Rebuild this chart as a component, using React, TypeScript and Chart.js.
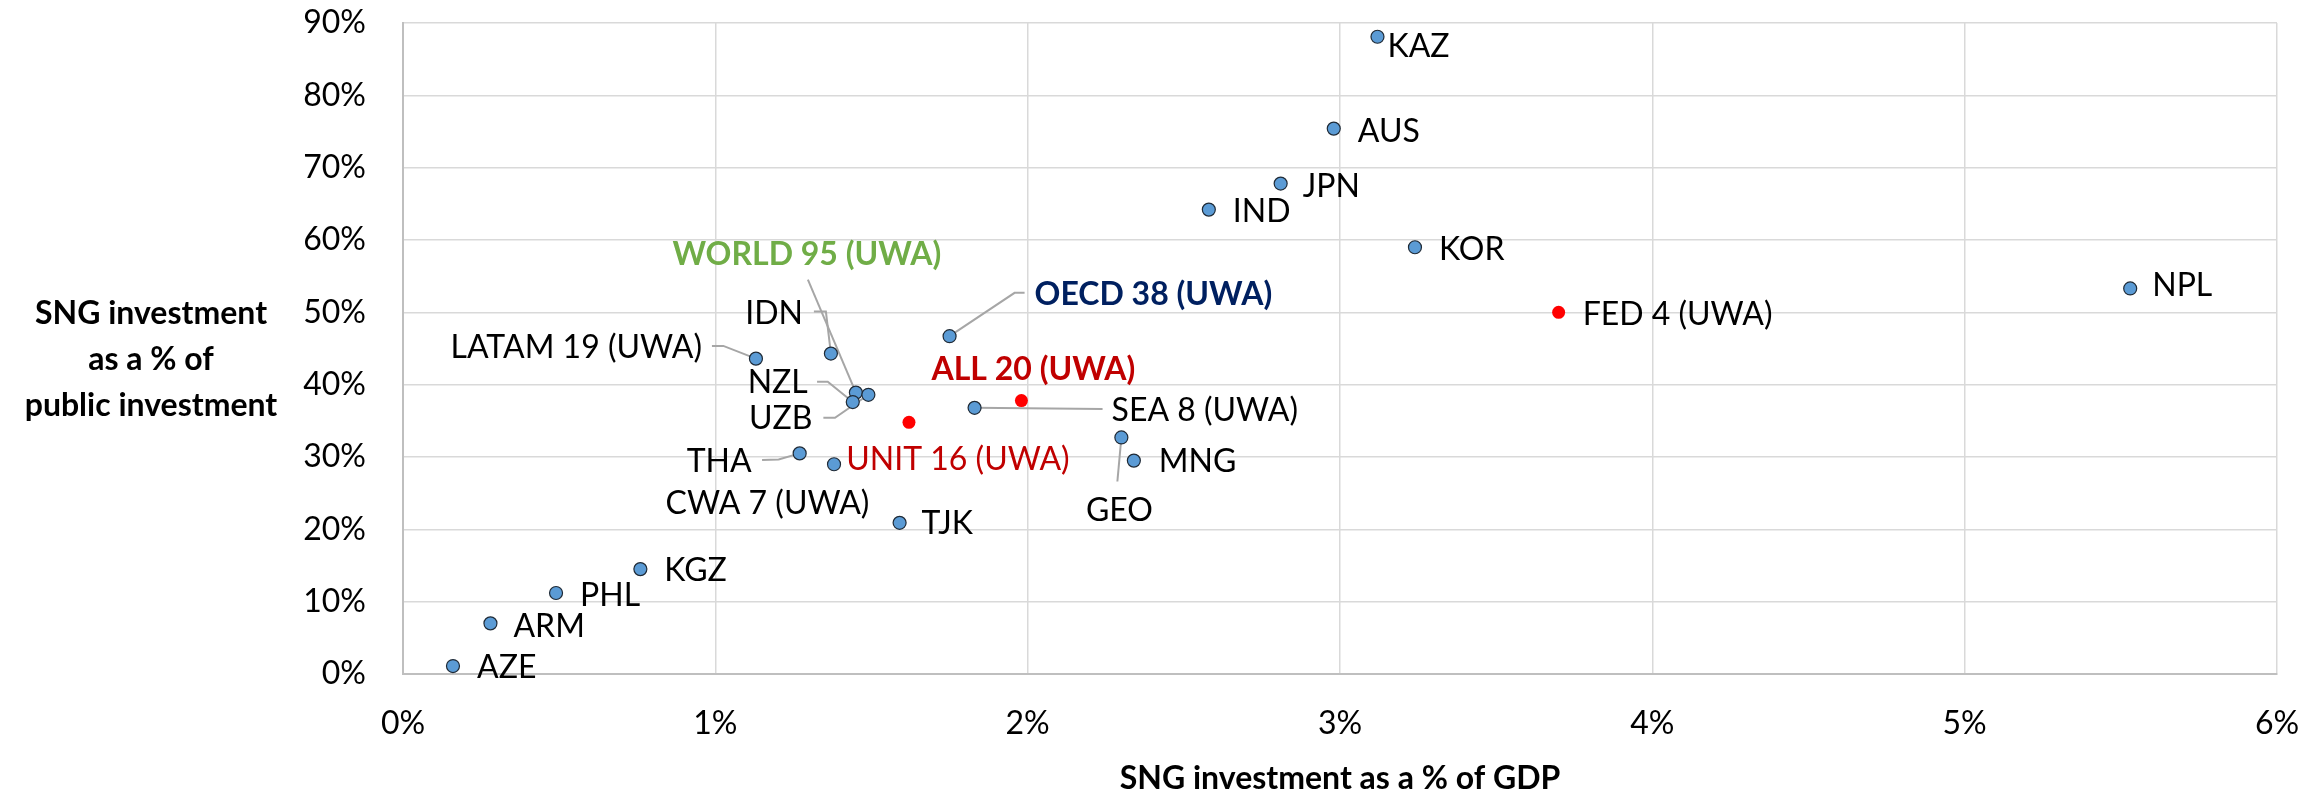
import React, { useEffect, useRef } from 'react';
import { Chart, registerables } from 'chart.js';

Chart.register(...registerables);

// ---------- DATA ----------
const countries = ['KAZ', 'AUS', 'JPN', 'IND', 'KOR', 'NPL', 'OECD 38 (UWA)', 'LATAM 19 (UWA)', 'IDN', 'WORLD 95 (UWA)', 'NZL', 'UZB', 'SEA 8 (UWA)', 'THA', 'CWA 7 (UWA)', 'GEO', 'MNG', 'TJK', 'KGZ', 'PHL', 'ARM', 'AZE'];
const gdpShare = [3.12, 2.98, 2.81, 2.58, 3.24, 5.53, 1.75, 1.13, 1.37, 1.45, 1.44, 1.49, 1.83, 1.27, 1.38, 2.30, 2.34, 1.59, 0.76, 0.49, 0.28, 0.16];
const publicShare = [88.1, 75.4, 67.8, 64.2, 59.0, 53.3, 46.7, 43.6, 44.3, 38.9, 37.6, 38.6, 36.8, 30.5, 29.0, 32.7, 29.5, 20.9, 14.5, 11.2, 7.0, 1.1];

const groups = ['FED 4 (UWA)', 'ALL 20 (UWA)', 'UNIT 16 (UWA)'];
const groupGdp = [3.70, 1.98, 1.62];
const groupPublic = [50.0, 37.8, 34.8];

const xTicks = [0, 1, 2, 3, 4, 5, 6];
const yTicks = [0, 10, 20, 30, 40, 50, 60, 70, 80, 90];

const xTitle = 'SNG investment as a % of GDP';
const yTitleLines = ['SNG investment', 'as a % of', 'public investment'];

// ---------- LAYOUT (label placement, px offsets from the point) ----------
type Lbl = { dx: number; dy: number; align: CanvasTextAlign; color?: string; bold?: boolean; leader?: number[][] };
const countryLabelLayout: Lbl[] = [
  { dx: 10, dy: 10, align: 'left' }, // KAZ
  { dx: 24, dy: 3, align: 'left' }, // AUS
  { dx: 22, dy: 3, align: 'left' }, // JPN
  { dx: 24, dy: 2, align: 'left' }, // IND
  { dx: 24, dy: 2, align: 'left' }, // KOR
  { dx: 22, dy: -3, align: 'left' }, // NPL
  { dx: 85, dy: -42, align: 'left', color: '#002060', bold: true, leader: [[75, -43.4], [65, -43.4]] }, // OECD
  { dx: -54, dy: -11, align: 'right', leader: [[-44, -12.7], [-32.6, -12.7]] }, // LATAM
  { dx: -28, dy: -40, align: 'right', leader: [[-17, -42], [-5, -42]] }, // IDN
  { dx: -49, dy: -138, align: 'center', color: '#70ad47', bold: true, leader: [[-48, -113]] }, // WORLD
  { dx: -45, dy: -19, align: 'right', leader: [[-35.7, -20.3], [-25, -20.3]] }, // NZL
  { dx: -56, dy: 24, align: 'right', leader: [[-45, 23], [-33.4, 23]] }, // UZB
  { dx: 137, dy: 3, align: 'left', leader: [[128, 1.3]] }, // SEA
  { dx: -48, dy: 8, align: 'right', leader: [[-37.6, 6.7], [-21, 6]] }, // THA
  { dx: -66.5, dy: 39, align: 'center' }, // CWA
  { dx: -2, dy: 73, align: 'center', leader: [[-4, 44]] }, // GEO
  { dx: 25, dy: 1, align: 'left' }, // MNG
  { dx: 22, dy: 1, align: 'left' }, // TJK
  { dx: 24, dy: 2, align: 'left' }, // KGZ
  { dx: 24, dy: 3, align: 'left' }, // PHL
  { dx: 23, dy: 3, align: 'left' }, // ARM
  { dx: 24, dy: 1.5, align: 'left' }, // AZE
];
const groupLabelLayout: Lbl[] = [
  { dx: 24, dy: 2, align: 'left' }, // FED
  { dx: 12, dy: -31, align: 'center', color: '#c00000', bold: true }, // ALL
  { dx: 49, dy: 37, align: 'center', color: '#c00000' }, // UNIT
];

const FONT = 'Lato, "Liberation Sans", sans-serif';
const FS = 32;

const labelPlugin = {
  id: 'pointLabels',
  beforeDatasetsDraw(chart: any) {
    const ctx = chart.ctx;
    const xs = chart.scales.x;
    const ys = chart.scales.y;
    ctx.save();
    ctx.strokeStyle = '#a6a6a6';
    ctx.lineWidth = 2;
    countries.forEach((_, i) => {
      const l = countryLabelLayout[i];
      if (!l.leader) return;
      const px = xs.getPixelForValue(gdpShare[i]);
      const py = ys.getPixelForValue(publicShare[i]);
      ctx.beginPath();
      l.leader.forEach((p, k) => {
        if (k === 0) ctx.moveTo(px + p[0], py + p[1]);
        else ctx.lineTo(px + p[0], py + p[1]);
      });
      ctx.lineTo(px, py);
      ctx.stroke();
    });
    ctx.restore();
  },
  afterDatasetsDraw(chart: any) {
    const ctx = chart.ctx;
    const xs = chart.scales.x;
    const ys = chart.scales.y;
    ctx.save();
    ctx.textBaseline = 'middle';
    const draw = (text: string, vx: number, vy: number, l: Lbl) => {
      const px = xs.getPixelForValue(vx);
      const py = ys.getPixelForValue(vy);
      ctx.font = `${l.bold ? 'bold ' : ''}${FS}px ${FONT}`;
      ctx.fillStyle = l.color || '#000000';
      ctx.textAlign = l.align;
      ctx.fillText(text, px + l.dx, py + l.dy);
    };
    countries.forEach((c, i) => draw(c, gdpShare[i], publicShare[i], countryLabelLayout[i]));
    groups.forEach((g, i) => draw(g, groupGdp[i], groupPublic[i], groupLabelLayout[i]));
    ctx.restore();
  },
  afterDraw(chart: any) {
    const ctx = chart.ctx;
    const area = chart.chartArea;
    ctx.save();
    ctx.fillStyle = '#000000';
    ctx.font = `bold ${FS}px ${FONT}`;
    ctx.textAlign = 'center';
    ctx.textBaseline = 'middle';
    ctx.fillText(xTitle, (area.left + area.right) / 2, 779);
    const ly = [314, 360, 406];
    yTitleLines.forEach((t, i) => ctx.fillText(t, 151, ly[i]));
    ctx.restore();
  },
};

export default function App() {
  const ref = useRef<HTMLCanvasElement | null>(null);
  useEffect(() => {
    document.body.style.margin = '0';
    const canvas = ref.current;
    if (!canvas) return;
    const chart = new Chart(canvas, {
      type: 'scatter',
      data: {
        datasets: [
          {
            label: 'Countries',
            data: countries.map((_, i) => ({ x: gdpShare[i], y: publicShare[i] })),
            backgroundColor: '#5b9bd5',
            borderColor: '#1f2a36',
            borderWidth: 1.2,
            pointRadius: 6.5,
            pointHoverRadius: 6.5,
          },
          {
            label: 'Groups',
            data: groups.map((_, i) => ({ x: groupGdp[i], y: groupPublic[i] })),
            backgroundColor: '#ff0000',
            borderColor: '#ff0000',
            borderWidth: 0,
            pointRadius: 6.5,
            pointHoverRadius: 6.5,
          },
        ],
      },
      options: {
        animation: false,
        responsive: false,
        events: [],
        layout: { padding: { top: 23, right: 45, bottom: 0, left: 0 } },
        plugins: { legend: { display: false }, tooltip: { enabled: false } },
        scales: {
          x: {
            type: 'linear',
            min: 0,
            max: 6,
            afterFit: (s: any) => { s.height = 119; s.paddingLeft = 0; s.paddingRight = 0; },
            afterBuildTicks: (s: any) => { s.ticks = xTicks.map((v) => ({ value: v })); },
            grid: { color: '#d9d9d9', lineWidth: 1.5, drawTicks: false },
            border: { color: '#bfbfbf', width: 2 },
            ticks: {
              padding: 30,
              color: '#000000',
              font: { family: FONT, size: FS },
              callback: (v: any) => `${v}%`,
            },
          },
          y: {
            type: 'linear',
            min: 0,
            max: 90,
            afterFit: (s: any) => { s.width = 403; s.paddingTop = 0; s.paddingBottom = 0; },
            afterBuildTicks: (s: any) => { s.ticks = yTicks.map((v) => ({ value: v })); },
            grid: { color: '#d9d9d9', lineWidth: 1.5, drawTicks: false },
            border: { color: '#bfbfbf', width: 2 },
            ticks: {
              padding: 37,
              color: '#000000',
              font: { family: FONT, size: FS },
              callback: (v: any) => `${v}%`,
            },
          },
        },
      },
      plugins: [labelPlugin],
    });
    return () => chart.destroy();
  }, []);
  return (
    <div style={{ width: 2322, height: 793, background: '#ffffff' }}>
      <canvas ref={ref} width={2322} height={793} style={{ display: 'block' }} />
    </div>
  );
}
